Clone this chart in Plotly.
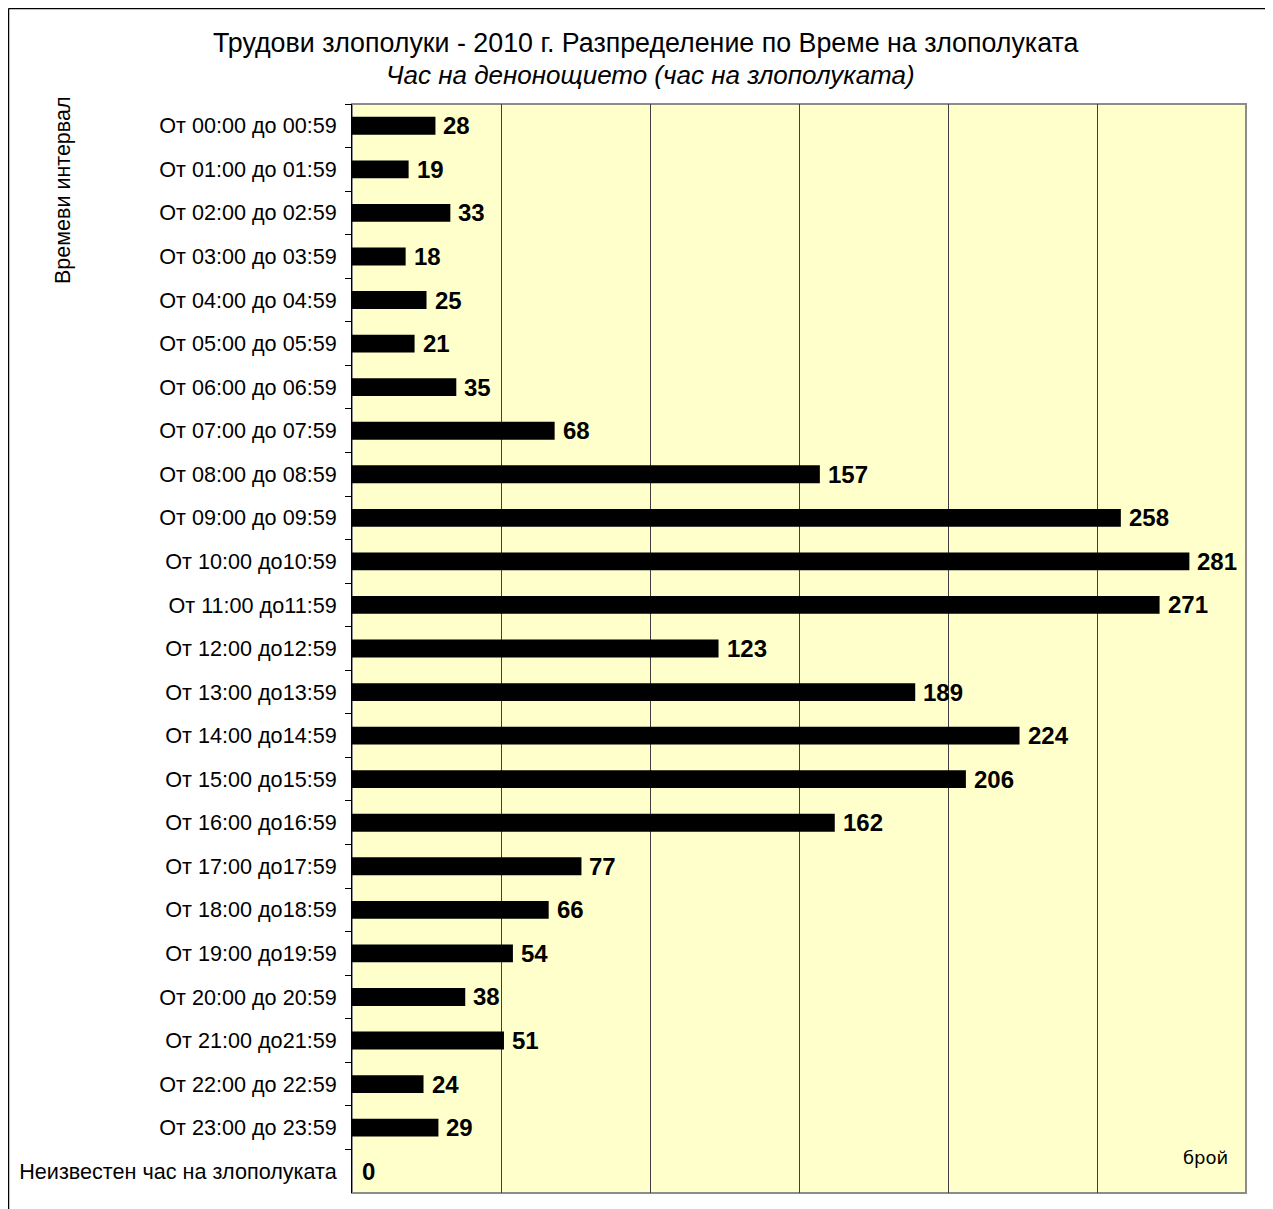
import plotly.graph_objects as go

categories = [
    "От 00:00 до 00:59", "От 01:00 до 01:59", "От 02:00 до 02:59", "От 03:00 до 03:59",
    "От 04:00 до 04:59", "От 05:00 до 05:59", "От 06:00 до 06:59", "От 07:00 до 07:59",
    "От 08:00 до 08:59", "От 09:00 до 09:59", "От 10:00 до10:59", "От 11:00 до11:59",
    "От 12:00 до12:59", "От 13:00 до13:59", "От 14:00 до14:59", "От 15:00 до15:59",
    "От 16:00 до16:59", "От 17:00 до17:59", "От 18:00 до18:59", "От 19:00 до19:59",
    "От 20:00 до 20:59", "От 21:00 до21:59", "От 22:00 до 22:59", "От 23:00 до 23:59",
    "Неизвестен час на злополуката",
]
values = [28, 19, 33, 18, 25, 21, 35, 68, 157, 258, 281, 271, 123, 189, 224, 206,
          162, 77, 66, 54, 38, 51, 24, 29, 0]

title_text = "Трудови злополуки - 2010 г. Разпределение по Време на злополуката"
subtitle_text = "Час на денонощието (час на злополуката)"
y_title = "Времеви интервал"
unit_text = "брой"

OFF = 8  # page body margin
W, H = 1273 - OFF, 1209 - OFF
L, R, T, B = 352 - OFF, 1246 - OFF, 104 - OFF, 1193 - OFF


def px(x):  # page pixel -> paper x
    return (x - OFF - L) / (R - L)


def py(y):  # page pixel -> paper y
    return (B - (y - OFF)) / (B - T)


FONT = "Arial, Liberation Sans"

fig = go.Figure()
fig.add_trace(go.Bar(
    x=values, y=categories, orientation="h",
    marker=dict(color="#000000", line=dict(width=0)),
    width=0.41,
    hoverinfo="x+y",
))

for v, c in zip(values, categories):
    fig.add_annotation(
        x=v, y=c, xref="x", yref="y", text=str(v), showarrow=False,
        xanchor="left", yanchor="middle", xshift=6 if v > 0 else 8,
        font=dict(family=FONT, size=24, color="#000000", weight="bold"),
    )

fig.update_layout(
    width=W, height=H,
    margin=dict(l=L, r=W - R, t=T, b=H - B, pad=0),
    paper_bgcolor="#FFFFFF",
    plot_bgcolor="#FFFFCC",
    showlegend=False,
    font=dict(family=FONT, color="#000000"),
    xaxis=dict(
        range=[0, 300], dtick=50, showgrid=True, gridcolor="#404040", gridwidth=1,
        showticklabels=False, ticks="", zeroline=False, showline=False, fixedrange=True,
    ),
    yaxis=dict(
        autorange="reversed", showline=True, linecolor="#000000", linewidth=1,
        ticks="outside", tickson="boundaries", ticklen=6, tickcolor="#000000",
        tickfont=dict(size=21.6, family=FONT),
        ticklabelstandoff=10, showgrid=False,
    ),
    bargap=0.59,
)

# plot area border (gray)
fig.add_shape(type="rect", xref="paper", yref="paper", x0=0, x1=1, y0=0, y1=1,
              line=dict(color="#8c8c8c", width=2), layer="below")
# outer chart border (left and top edges visible)
fig.add_shape(type="line", xref="paper", yref="paper",
              x0=px(8.5), x1=px(8.5), y0=py(1215), y1=py(8.5),
              line=dict(color="#000000", width=1.5))
fig.add_shape(type="line", xref="paper", yref="paper",
              x0=px(8.5), x1=px(1280), y0=py(8.5), y1=py(8.5),
              line=dict(color="#000000", width=1.5))

fig.add_annotation(text=title_text, xref="paper", yref="paper", x=px(645), y=py(43),
                   showarrow=False, font=dict(size=26.8, family=FONT),
                   xanchor="center", yanchor="middle")
fig.add_annotation(text="<i>" + subtitle_text + "</i>", xref="paper", yref="paper",
                   x=px(650), y=py(75), showarrow=False,
                   font=dict(size=26, family=FONT),
                   xanchor="center", yanchor="middle")
fig.add_annotation(text=y_title, xref="paper", yref="paper", x=px(63), y=py(190),
                   showarrow=False, textangle=-90,
                   font=dict(size=21.5, family=FONT),
                   xanchor="center", yanchor="middle")
fig.add_annotation(text=unit_text, xref="paper", yref="paper", x=px(1205), y=py(1157),
                   showarrow=False, font=dict(size=18, family="DejaVu Sans"),
                   xanchor="center", yanchor="middle")

fig.write_html("out.html")
